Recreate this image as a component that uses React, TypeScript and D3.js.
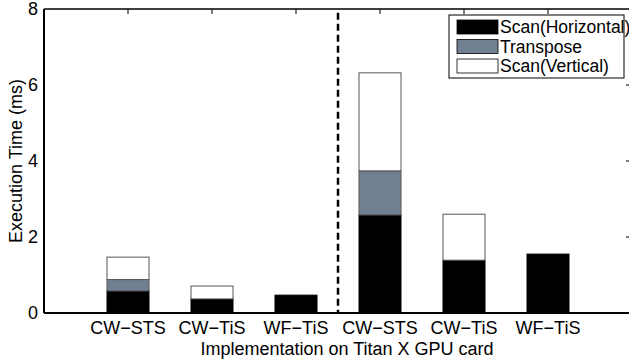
import React, { useEffect, useRef } from 'react';
import * as d3 from 'd3';

const categories = ['CW−STS', 'CW−TiS', 'WF−TiS', 'CW−STS', 'CW−TiS', 'WF−TiS'];
const scanHorizontal = [0.58, 0.37, 0.47, 2.58, 1.39, 1.55];
const transpose = [0.3, 0, 0, 1.16, 0, 0];
const scanVertical = [0.59, 0.34, 0, 2.58, 1.21, 0];
const seriesNames = ['Scan(Horizontal)', 'Transpose', 'Scan(Vertical)'];
const seriesColors = ['#000000', '#708090', '#ffffff'];
const yTicks = [0, 2, 4, 6, 8];

const W = 629;
const H = 364;

export default function App() {
  const ref = useRef<SVGSVGElement>(null);

  useEffect(() => {
    const svg = d3.select(ref.current);
    svg.selectAll('*').remove();

    const x = d3.scaleLinear().domain([0, 7]).range([44, 632]);
    const y = d3.scaleLinear().domain([0, 8]).range([313, 9]);
    const font = '"Liberation Sans", Arial, sans-serif';

    // stacked bars
    const rows = categories.map((c, i) => ({
      i,
      h: scanHorizontal[i],
      t: transpose[i],
      v: scanVertical[i],
    }));
    const stack = d3.stack<any>().keys(['h', 't', 'v'])(rows);
    const bw = 42;

    stack.forEach((layer, k) => {
      svg.append('g')
        .selectAll('rect')
        .data(layer.filter(d => d[1] - d[0] > 0))
        .join('rect')
        .attr('x', d => x(d.data.i + 1) - bw / 2)
        .attr('width', bw)
        .attr('y', d => y(d[1]))
        .attr('height', d => y(d[0]) - y(d[1]))
        .attr('fill', seriesColors[k])
        .attr('stroke', k === 0 ? '#000' : '#555')
        .attr('stroke-width', 1);
    });

    // dashed separator
    svg.append('line')
      .attr('x1', x(3.5)).attr('x2', x(3.5))
      .attr('y1', y(7.9)).attr('y2', y(0))
      .attr('stroke', '#000')
      .attr('stroke-width', 2.5)
      .attr('stroke-dasharray', '7,4');

    // frame
    const frame = svg.append('g').attr('stroke', '#000').attr('fill', 'none');
    frame.append('line').attr('x1', x(0)).attr('x2', x(7)).attr('y1', y(0)).attr('y2', y(0)).attr('stroke-width', 2);
    frame.append('line').attr('x1', x(0)).attr('x2', x(7)).attr('y1', y(8)).attr('y2', y(8)).attr('stroke-width', 1.5);
    frame.append('line').attr('x1', x(0)).attr('x2', x(0)).attr('y1', y(0)).attr('y2', y(8)).attr('stroke-width', 2);

    // top ticks
    frame.selectAll('.tt')
      .data(d3.range(1, 7))
      .join('line')
      .attr('x1', d => x(d)).attr('x2', d => x(d))
      .attr('y1', y(8)).attr('y2', y(8) + 5)
      .attr('stroke-width', 1);

    // right ticks
    frame.selectAll('.rt')
      .data(yTicks.slice(1, -1))
      .join('line')
      .attr('x1', 626).attr('x2', 632)
      .attr('y1', d => y(d)).attr('y2', d => y(d))
      .attr('stroke-width', 1);

    // y tick labels
    svg.append('g')
      .selectAll('text')
      .data(yTicks)
      .join('text')
      .attr('x', 38)
      .attr('y', d => y(d))
      .attr('dy', '0.36em')
      .attr('text-anchor', 'end')
      .attr('font-family', font)
      .attr('font-size', 18)
      .text(d => d);

    // x tick labels
    svg.append('g')
      .selectAll('text')
      .data(categories)
      .join('text')
      .attr('x', (d, i) => x(i + 1))
      .attr('y', 334)
      .attr('text-anchor', 'middle')
      .attr('font-family', font)
      .attr('font-size', 18)
      .text(d => d);

    svg.append('text')
      .attr('x', 347)
      .attr('y', 355)
      .attr('text-anchor', 'middle')
      .attr('font-family', font)
      .attr('font-size', 18)
      .text('Implementation on Titan X GPU card');

    svg.append('text')
      .attr('transform', `translate(22,${(y(0) + y(8)) / 2}) rotate(-90)`)
      .attr('text-anchor', 'middle')
      .attr('font-family', font)
      .attr('font-size', 18)
      .text('Execution Time (ms)');

    // legend
    const lg = svg.append('g');
    lg.append('rect')
      .attr('x', 449).attr('y', 15).attr('width', 175).attr('height', 63)
      .attr('fill', '#fff').attr('stroke', '#000').attr('stroke-width', 1);
    seriesNames.forEach((name, k) => {
      const yy = 20 + k * 19.5;
      lg.append('rect')
        .attr('x', 457).attr('y', yy).attr('width', 41).attr('height', 14)
        .attr('fill', seriesColors[k]).attr('stroke', '#000').attr('stroke-width', 0.8);
      lg.append('text')
        .attr('x', 500).attr('y', yy + 7)
        .attr('dy', '0.36em')
        .attr('font-family', font)
        .attr('font-size', 17.5)
        .text(name);
    });
  }, []);

  return (
    <svg ref={ref} width={W} height={H} style={{ position: 'absolute', left: 0, top: 0, background: '#fff' }} />
  );
}
